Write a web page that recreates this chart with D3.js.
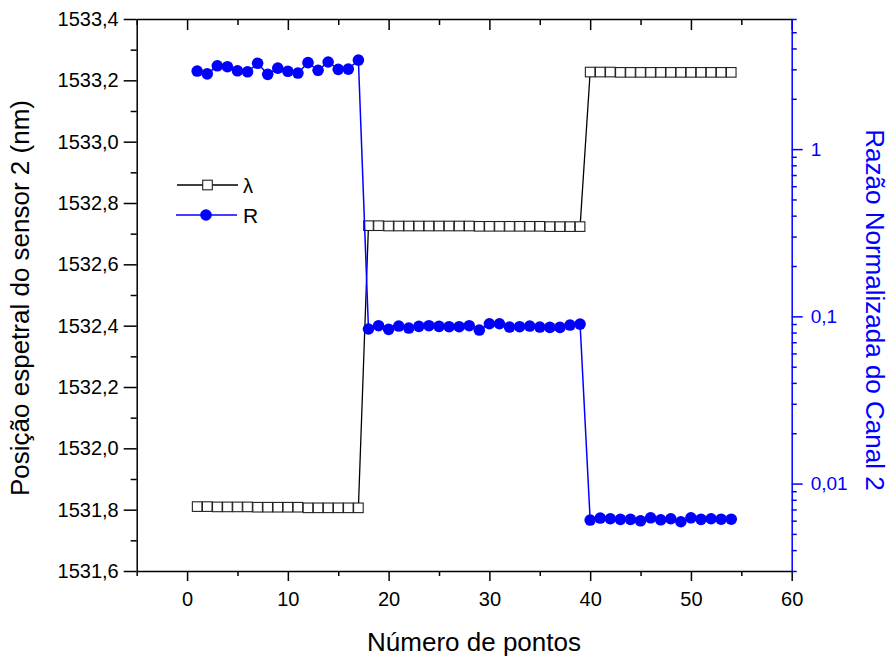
<!DOCTYPE html>
<html>
<head>
<meta charset="utf-8">
<script src="https://cdn.jsdelivr.net/npm/d3@7"></script>
<style>
  body { margin: 0; background: #fff; }
  svg { display: block; font-family: "Liberation Sans", Arial, sans-serif; }
</style>
</head>
<body>
<svg id="chart" width="891" height="662"></svg>
<script>
// point numbers
const pontos = [
  1, 2, 3, 4, 5, 6, 7, 8, 9, 10, 11, 12, 13, 14, 15, 16, 17,
  18, 19, 20, 21, 22, 23, 24, 25, 26, 27, 28, 29, 30, 31, 32, 33, 34, 35, 36, 37, 38, 39,
  40, 41, 42, 43, 44, 45, 46, 47, 48, 49, 50, 51, 52, 53, 54
];

// spectral position of sensor 2 (nm)
const lambdaNm = [
  1531.810, 1531.810, 1531.809, 1531.809, 1531.809, 1531.809, 1531.808, 1531.808, 1531.808,
  1531.808, 1531.808, 1531.806, 1531.806, 1531.806, 1531.806, 1531.806, 1531.806,
  1532.726, 1532.726, 1532.725, 1532.725, 1532.725, 1532.725, 1532.725, 1532.725, 1532.725,
  1532.725, 1532.725, 1532.724, 1532.724, 1532.724, 1532.724, 1532.724, 1532.724, 1532.724,
  1532.723, 1532.723, 1532.723, 1532.723,
  1533.227, 1533.227, 1533.227, 1533.226, 1533.226, 1533.226, 1533.226, 1533.226, 1533.226,
  1533.226, 1533.226, 1533.226, 1533.226, 1533.226, 1533.226
];

// normalized ratio of channel 2
const razao = [
  2.93, 2.82, 3.15, 3.11, 2.94, 2.90, 3.26, 2.80, 3.05, 2.92, 2.85, 3.29, 2.96, 3.32, 3.00, 3.01, 3.41,
  0.0840, 0.0879, 0.0836, 0.0875, 0.0851, 0.0871, 0.0879, 0.0871, 0.0867, 0.0867, 0.0879,
  0.0828, 0.0903, 0.0903, 0.0863, 0.0867, 0.0875, 0.0863, 0.0859, 0.0859, 0.0887, 0.0899,
  0.00605, 0.00622, 0.00616, 0.00611, 0.00611, 0.00599, 0.00624, 0.00607, 0.00616,
  0.00591, 0.00624, 0.00611, 0.00616, 0.00612, 0.00612
];

const xMajor = [0, 10, 20, 30, 40, 50, 60];
const xMinor = [-5, 5, 15, 25, 35, 45, 55];
const yMajor = [1531.6, 1531.8, 1532.0, 1532.2, 1532.4, 1532.6, 1532.8, 1533.0, 1533.2, 1533.4];
const yMinor = [1531.7, 1531.9, 1532.1, 1532.3, 1532.5, 1532.7, 1532.9, 1533.1, 1533.3];
const rMajor = [0.01, 0.1, 1];
const rMinor = [0.003, 0.004, 0.005, 0.006, 0.007, 0.008, 0.009,
  0.02, 0.03, 0.04, 0.05, 0.06, 0.07, 0.08, 0.09,
  0.2, 0.3, 0.4, 0.5, 0.6, 0.7, 0.8, 0.9,
  2, 3, 4, 5, 6];

const blue = "#0000ff";
const font = '"Liberation Sans", Arial, sans-serif';
const margin = { top: 19, right: 99.3, bottom: 91, left: 136.7 };
const width = 891, height = 662;

const svg = d3.select("#chart");

const x = d3.scaleLinear().domain([-5, 60]).range([margin.left, width - margin.right]);
const y = d3.scaleLinear().domain([1531.6, 1533.4]).range([height - margin.bottom, margin.top]);
const yR = d3.scaleLog().domain([0.003, 6]).range([height - margin.bottom, margin.top]);

const comma = d => String(d).replace(".", ",");

function styleAxis(g, color, size) {
  g.attr("font-family", font).attr("font-size", size);
  g.selectAll("path, line").attr("stroke", color).attr("stroke-width", 1.5);
  g.selectAll("text").attr("fill", color);
}

// bottom axis
svg.append("g")
  .attr("transform", `translate(0,${y.range()[0]})`)
  .call(d3.axisBottom(x).tickValues(xMinor).tickSize(5).tickFormat("").tickSizeOuter(0))
  .call(g => styleAxis(g, "#000", 20));
svg.append("g")
  .attr("transform", `translate(0,${y.range()[0]})`)
  .call(d3.axisBottom(x).tickValues(xMajor).tickSize(10).tickPadding(11).tickSizeOuter(0))
  .call(g => styleAxis(g, "#000", 20))
  .call(g => g.select(".domain").remove());

// top axis, ticks pointing in
svg.append("g")
  .attr("transform", `translate(0,${margin.top})`)
  .call(d3.axisBottom(x).tickValues(xMinor).tickSize(6).tickFormat("").tickSizeOuter(0))
  .call(g => styleAxis(g, "#000", 20));
svg.append("g")
  .attr("transform", `translate(0,${margin.top})`)
  .call(d3.axisBottom(x).tickValues(xMajor).tickSize(11).tickFormat("").tickSizeOuter(0))
  .call(g => styleAxis(g, "#000", 20))
  .call(g => g.select(".domain").remove());

// left axis
svg.append("g")
  .attr("transform", `translate(${margin.left},0)`)
  .call(d3.axisLeft(y).tickValues(yMinor).tickSize(6).tickFormat("").tickSizeOuter(0))
  .call(g => styleAxis(g, "#000", 20));
svg.append("g")
  .attr("transform", `translate(${margin.left},0)`)
  .call(d3.axisLeft(y).tickValues(yMajor).tickSize(13).tickPadding(5)
    .tickFormat(d => comma(d.toFixed(1))).tickSizeOuter(0))
  .call(g => styleAxis(g, "#000", 20))
  .call(g => g.select(".domain").remove());

// right log axis
svg.append("g")
  .attr("transform", `translate(${width - margin.right},0)`)
  .call(d3.axisRight(yR).tickValues(rMinor).tickSize(5).tickFormat("").tickSizeOuter(0))
  .call(g => styleAxis(g, blue, 19));
svg.append("g")
  .attr("transform", `translate(${width - margin.right},0)`)
  .call(d3.axisRight(yR).tickValues(rMajor).tickSize(11).tickPadding(8).tickFormat(comma).tickSizeOuter(0))
  .call(g => styleAxis(g, blue, 19))
  .call(g => g.select(".domain").remove());

// axis titles
svg.append("text")
  .attr("x", 474).attr("y", 651)
  .attr("text-anchor", "middle")
  .style("font-size", "26px")
  .text("Número de pontos");

svg.append("text")
  .attr("transform", "translate(29,298) rotate(-90)")
  .attr("text-anchor", "middle")
  .style("font-size", "26px")
  .text("Posição espetral do sensor 2 (nm)");

svg.append("text")
  .attr("transform", "translate(866,310) rotate(90)")
  .attr("text-anchor", "middle")
  .attr("fill", blue)
  .style("font-size", "26px")
  .text("Razão Normalizada do Canal 2");

// lambda series
const lamData = pontos.map((p, i) => ({ p, v: lambdaNm[i] }));
const rData = pontos.map((p, i) => ({ p, v: razao[i] }));

svg.append("path")
  .datum(lamData)
  .attr("fill", "none")
  .attr("stroke", "#000")
  .attr("stroke-width", 1.3)
  .attr("d", d3.line().x(d => x(d.p)).y(d => y(d.v)));

svg.append("g")
  .selectAll("rect")
  .data(lamData)
  .join("rect")
  .attr("x", d => x(d.p) - 4.8)
  .attr("y", d => y(d.v) - 4.8)
  .attr("width", 9.6)
  .attr("height", 9.6)
  .attr("fill", "#fff")
  .attr("stroke", "#222")
  .attr("stroke-width", 1.1);

// ratio series
svg.append("path")
  .datum(rData)
  .attr("fill", "none")
  .attr("stroke", blue)
  .attr("stroke-width", 1.5)
  .attr("d", d3.line().x(d => x(d.p)).y(d => yR(d.v)));

svg.append("g")
  .selectAll("circle")
  .data(rData)
  .join("circle")
  .attr("cx", d => x(d.p))
  .attr("cy", d => yR(d.v))
  .attr("r", 5.8)
  .attr("fill", blue);

// legend
const leg = svg.append("g");
leg.append("line").attr("x1", 177).attr("x2", 238).attr("y1", 185).attr("y2", 185)
  .attr("stroke", "#000").attr("stroke-width", 1.3);
leg.append("rect").attr("x", 202.7).attr("y", 180.2).attr("width", 9.6).attr("height", 9.6)
  .attr("fill", "#fff").attr("stroke", "#222").attr("stroke-width", 1.1);
leg.append("text").attr("x", 243).attr("y", 193).style("font-size", "20px").text("λ");
leg.append("line").attr("x1", 176).attr("x2", 237).attr("y1", 215).attr("y2", 215)
  .attr("stroke", blue).attr("stroke-width", 1.5);
leg.append("circle").attr("cx", 206).attr("cy", 215).attr("r", 5.8).attr("fill", blue);
leg.append("text").attr("x", 243).attr("y", 223).style("font-size", "21px").text("R");
</script>
</body>
</html>
